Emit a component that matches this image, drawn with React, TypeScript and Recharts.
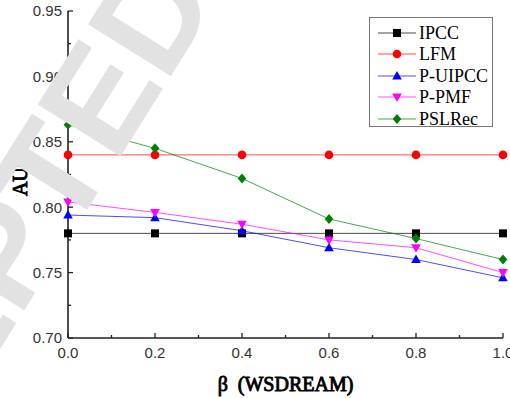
import React from "react";
import { LineChart, Line, XAxis, YAxis } from "recharts";

const betas = [0, 0.2, 0.4, 0.6, 0.8, 1.0];
const ipcc = [0.78, 0.78, 0.78, 0.78, 0.78, 0.78];
const lfm = [0.84, 0.84, 0.84, 0.84, 0.84, 0.84];
const pUipcc = [0.794, 0.792, 0.782, 0.769, 0.76, 0.746];
const pPmf = [0.804, 0.796, 0.787, 0.775, 0.769, 0.75];
const pslRec = [0.863, 0.845, 0.822, 0.791, 0.776, 0.76];

const xTicks = [0, 0.1, 0.2, 0.3, 0.4, 0.5, 0.6, 0.7, 0.8, 0.9, 1.0];
const xLabels = [0, 0.2, 0.4, 0.6, 0.8, 1.0];
const yTicks = [0.7, 0.725, 0.75, 0.775, 0.8, 0.825, 0.85, 0.875, 0.9, 0.925, 0.95];
const yLabels = [0.7, 0.75, 0.8, 0.85, 0.9, 0.95];

const series = [
  { key: "IPCC", values: ipcc, color: "#000000", shape: "square" },
  { key: "LFM", values: lfm, color: "#ff0000", shape: "circle" },
  { key: "P-UIPCC", values: pUipcc, color: "#0000ff", shape: "up" },
  { key: "P-PMF", values: pPmf, color: "#ff00ff", shape: "down" },
  { key: "PSLRec", values: pslRec, color: "#008000", shape: "diamond" },
];

const data = betas.map((b, i) => {
  const row: Record<string, number> = { beta: b };
  series.forEach((s) => (row[s.key] = s.values[i]));
  return row;
});

// plot box
const W = 510;
const H = 398;
const PL = 68;
const PR = 503;
const PT = 11;
const PB = 338;
const AXIS = "#222";
const SERIF = "'Liberation Serif', 'Times New Roman', serif";

const isIn = (v: number, arr: number[]) => arr.some((a) => Math.abs(a - v) < 1e-6);

function Marker({ shape, cx, cy, color }: any) {
  if (cx == null || cy == null) return null;
  if (shape === "square")
    return <rect x={cx - 4} y={cy - 4} width={8} height={8} fill={color} />;
  if (shape === "circle") return <circle cx={cx} cy={cy} r={4.3} fill={color} />;
  if (shape === "up")
    return <polygon points={`${cx},${cy - 5} ${cx - 4.8},${cy + 3.5} ${cx + 4.8},${cy + 3.5}`} fill={color} />;
  if (shape === "down")
    return <polygon points={`${cx},${cy + 5} ${cx - 4.8},${cy - 3.5} ${cx + 4.8},${cy - 3.5}`} fill={color} />;
  return <polygon points={`${cx},${cy - 5} ${cx + 4.3},${cy} ${cx},${cy + 5} ${cx - 4.3},${cy}`} fill={color} />;
}

const tickFont = { fontFamily: "Arial, 'Liberation Sans', sans-serif", fontSize: 15, fill: "#333" };

function LeftTick({ payload }: any) {
  const c = payload.coordinate;
  const major = isIn(payload.value, yLabels);
  return (
    <g>
      <line x1={PL} x2={PL + (major ? 5 : 3)} y1={c} y2={c} stroke={AXIS} strokeWidth={1.3} />
      {major && (
        <text x={PL - 6} y={c} dy="0.36em" textAnchor="end" {...tickFont}>
          {payload.value.toFixed(2)}
        </text>
      )}
    </g>
  );
}

function RightTick({ payload }: any) {
  const c = payload.coordinate;
  const major = isIn(payload.value, yLabels);
  return <line x1={PR} x2={PR - (major ? 5 : 3)} y1={c} y2={c} stroke={AXIS} strokeWidth={1.3} />;
}

function BottomTick({ payload }: any) {
  const c = payload.coordinate;
  const major = isIn(payload.value, xLabels);
  return (
    <g>
      <line x1={c} x2={c} y1={PB} y2={PB - (major ? 5 : 3)} stroke={AXIS} strokeWidth={1.3} />
      {major && (
        <text x={c} y={PB + 15} dy="0.36em" textAnchor="middle" {...tickFont}>
          {payload.value.toFixed(1)}
        </text>
      )}
    </g>
  );
}

export default function App() {
  return (
    <div style={{ position: "absolute", left: 0, top: 0, width: W, height: H, background: "#fff", overflow: "hidden" }}>
      <LineChart width={W} height={H} data={data} margin={{ top: PT, right: W - PR, bottom: 0, left: 0 }}>
        <XAxis
          dataKey="beta"
          type="number"
          domain={[0, 1]}
          ticks={xTicks}
          height={H - PB}
          interval={0}
          tickLine={false}
          tick={<BottomTick />}
          axisLine={{ stroke: AXIS, strokeWidth: 1.6 }}
        />
        <XAxis xAxisId="top" orientation="top" type="number" domain={[0, 1]} height={0} tick={false} tickLine={false} axisLine={{ stroke: AXIS, strokeWidth: 1.6 }} />
        <YAxis
          type="number"
          domain={[0.7, 0.95]}
          ticks={yTicks}
          width={PL}
          interval={0}
          tickLine={false}
          tick={<LeftTick />}
          axisLine={{ stroke: AXIS, strokeWidth: 1.6 }}
        />
        <YAxis
          yAxisId="right"
          orientation="right"
          type="number"
          domain={[0.7, 0.95]}
          ticks={yTicks}
          width={0}
          interval={0}
          tickLine={false}
          tick={<RightTick />}
          axisLine={{ stroke: AXIS, strokeWidth: 1.6 }}
        />
        {series.map((s) => (
          <Line
            key={s.key}
            dataKey={s.key}
            name={s.key}
            type="linear"
            stroke={s.color}
            strokeWidth={1}
            strokeOpacity={0.7}
            isAnimationActive={false}
            dot={(p: any) => <Marker key={`${s.key}-${p.index}`} shape={s.shape} cx={p.cx} cy={p.cy} color={s.color} />}
            activeDot={false}
          />
        ))}
      </LineChart>

      {/* axis titles, serif faked bold with a thin stroke */}
      <svg width={W} height={H} style={{ position: "absolute", left: 0, top: 0, pointerEvents: "none" }}>
        <text
          x={(PL + PR) / 2}
          y={391}
          textAnchor="middle"
          fontFamily={SERIF}
          fontSize={20}
          stroke="#000"
          strokeWidth={0.9}
          style={{ whiteSpace: "pre" }}
        >
          {"β  (WSDREAM)"}
        </text>
        <text
          x={0}
          y={0}
          transform="translate(27,175) rotate(-90)"
          textAnchor="middle"
          fontFamily={SERIF}
          fontSize={20}
          stroke="#000"
          strokeWidth={0.9}
        >
          AUC
        </text>
      </svg>

      {/* legend */}
      <div
        style={{
          position: "absolute",
          left: 369,
          top: 17,
          width: 124,
          height: 110,
          border: "1px solid #777",
          background: "#fff",
          boxSizing: "border-box",
          paddingTop: 4,
        }}
      >
        {series.map((s) => (
          <div key={s.key} style={{ display: "flex", alignItems: "center", height: 21.5 }}>
            <svg width={48} height={14} style={{ flexShrink: 0 }}>
              <line x1={8} x2={46} y1={7} y2={7} stroke={s.color} strokeOpacity={0.7} strokeWidth={1} />
              <Marker shape={s.shape} cx={27} cy={7} color={s.color} />
            </svg>
            <span style={{ fontFamily: SERIF, fontSize: 18, lineHeight: "20px", marginLeft: 1 }}>{s.key}</span>
          </div>
        ))}
      </div>

      {/* watermark */}
      <svg width={W} height={H} style={{ position: "absolute", left: 0, top: 0, pointerEvents: "none" }}>
        <text
          x={220}
          y={-3}
          transform="rotate(-58 220 -3)"
          textAnchor="end"
          fontFamily="Arial, 'Liberation Sans', sans-serif"
          fontWeight="bold"
          fontSize={142}
          fill="#e2e2e2"
        >
          ACCEPTED
        </text>
      </svg>
    </div>
  );
}
